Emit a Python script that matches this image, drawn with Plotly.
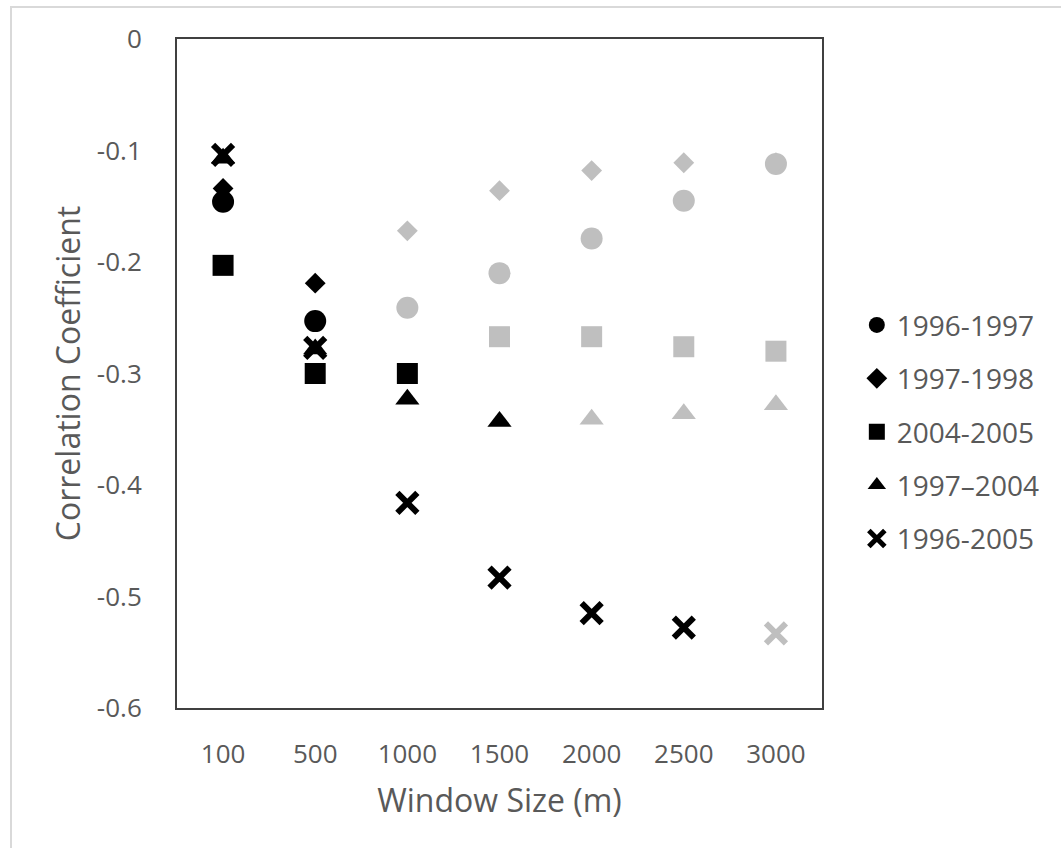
import plotly.graph_objects as go

# Window sizes (m) used as categories on the x axis
windows = ["100", "500", "1000", "1500", "2000", "2500", "3000"]

# Correlation coefficients per period
r_1996_1997 = [-0.146, -0.253, -0.241, -0.210, -0.179, -0.145, -0.112]
r_1997_1998 = [-0.134, -0.219, -0.172, -0.136, -0.118, -0.111, -0.111]
r_2004_2005 = [-0.203, -0.300, -0.300, -0.267, -0.267, -0.276, -0.280]
r_1997_2004 = [-0.107, -0.278, -0.323, -0.343, -0.341, -0.336, -0.328]
r_1996_2005 = [-0.104, -0.277, -0.416, -0.483, -0.515, -0.528, -0.533]

# Significance flags (True = significant, drawn black; otherwise grey)
sig_1996_1997 = [True, True, False, False, False, False, False]
sig_1997_1998 = [True, True, False, False, False, False, False]
sig_2004_2005 = [True, True, True, False, False, False, False]
sig_1997_2004 = [True, True, True, True, False, False, False]
sig_1996_2005 = [True, True, True, True, True, True, False]

y_ticks = [0, -0.1, -0.2, -0.3, -0.4, -0.5, -0.6]

BLACK = "#000000"
GREY = "#BFBFBF"
TEXT = "#595959"
FONT = "Open Sans, sans-serif"


def colours(flags):
    return [BLACK if f else GREY for f in flags]


series = [
    ("1996-1997", r_1996_1997, sig_1996_1997, "circle", 22),
    ("1997-1998", r_1997_1998, sig_1997_1998, "diamond", 16),
    ("2004-2005", r_2004_2005, sig_2004_2005, "square", 21),
    ("1997\u20132004", r_1997_2004, sig_1997_2004, "triangle-up", 21),
    ("1996-2005", r_1996_2005, sig_1996_2005, "x-thin", 20),
]

fig = go.Figure()
for i, (name, vals, flags, symbol, size) in enumerate(series):
    cols = colours(flags)
    if symbol == "x-thin":
        marker = dict(symbol=symbol, size=size, color=cols,
                      line=dict(color=cols, width=6))
    else:
        marker = dict(symbol=symbol, size=size, color=cols,
                      line=dict(width=0))
    fig.add_trace(go.Scatter(
        x=windows, y=vals, name=name, mode="markers",
        marker=marker, legendgroup=f"g{i}",
    ))

fig.update_layout(
    template="none",
    width=1061, height=848,
    margin=dict(l=177, r=239, t=39, b=140, autoexpand=False),
    paper_bgcolor="white", plot_bgcolor="white",
    font=dict(family=FONT, color=TEXT, size=26),
    showlegend=True,
    legend=dict(
        x=1.054, xanchor="left", y=0.413, yanchor="middle",
        font=dict(family=FONT, size=28, color=TEXT),
        tracegroupgap=14, itemsizing="trace",
        bgcolor="rgba(0,0,0,0)", borderwidth=0,
    ),
    xaxis=dict(
        type="category", categoryorder="array", categoryarray=windows,
        range=[-0.5, 6.5], showgrid=False, zeroline=False,
        showline=True, mirror=True, linecolor="#404040", linewidth=2,
        ticks="", ticklabelstandoff=22, automargin=False,
        tickfont=dict(family=FONT, size=26, color=TEXT),
        title=dict(text="Window Size (m)", standoff=19,
                   font=dict(family=FONT, size=32, color=TEXT)),
    ),
    yaxis=dict(
        range=[-0.6, 0], tickvals=y_ticks,
        ticktext=["0" if v == 0 else f"{v:g}" for v in y_ticks],
        showgrid=False, zeroline=False,
        showline=True, mirror=True, linecolor="#404040", linewidth=2,
        ticks="", ticklabelstandoff=28, automargin=False,
        tickfont=dict(family=FONT, size=26, color=TEXT),
        title=dict(text="Correlation Coefficient", standoff=7,
                   font=dict(family=FONT, size=32, color=TEXT)),
    ),
    shapes=[dict(
        type="rect", xref="paper", yref="paper", layer="below",
        x0=(11 - 177) / 645, x1=(1080 - 177) / 645,
        y0=(708 - 870) / 669, y1=(708 - 7) / 669,
        line=dict(color="#D9D9D9", width=2), fillcolor="rgba(0,0,0,0)",
    )],
)

fig.write_html("out.html")
